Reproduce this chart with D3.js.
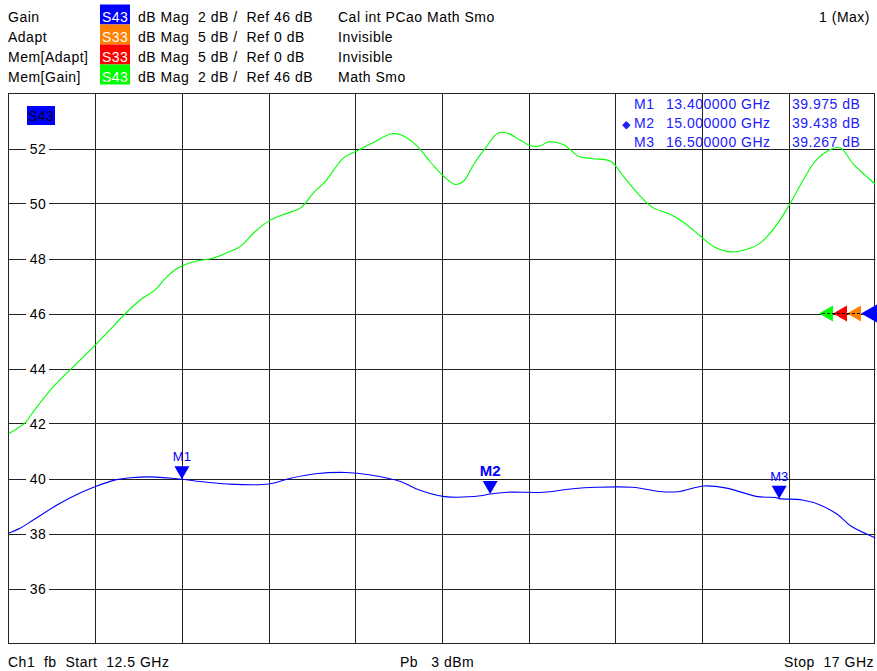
<!DOCTYPE html>
<html>
<head>
<meta charset="utf-8">
<script src="https://cdn.jsdelivr.net/npm/d3@7"></script>
<style>
  body { margin: 0; background: #fff; }
  text { font-family: "Liberation Sans", Arial, sans-serif; font-size: 14px; letter-spacing: 0.5px; white-space: pre; }
</style>
</head>
<body>
<div id="chart"></div>
<script>
// Gain trace (S43), frequency in GHz, level in dB
var gainFreq = [12.5, 12.562, 12.63, 12.77, 12.874, 12.952, 13.055, 13.133, 13.237, 13.4,
                13.497, 13.637, 13.849, 13.964, 14.093, 14.249, 14.379, 14.535, 14.628, 14.766,
                14.95, 15.0, 15.088, 15.275, 15.417, 15.552, 15.739, 15.879, 15.973, 16.11,
                16.227, 16.388, 16.481, 16.5, 16.62, 16.712, 16.805, 16.87, 17.0];
var gainDb = [38.01, 38.2, 38.5, 39.11, 39.48, 39.71, 39.95, 40.03, 40.06, 39.975,
              39.89, 39.8, 39.8, 40.01, 40.17, 40.22, 40.13, 39.89, 39.59, 39.34,
              39.37, 39.438, 39.5, 39.5, 39.62, 39.68, 39.68, 39.53, 39.52, 39.73,
              39.65, 39.34, 39.31, 39.267, 39.22, 39.04, 38.68, 38.28, 37.84];

// Mem[Gain] trace
var memFreq = [12.5, 12.588, 12.63, 12.734, 12.837, 12.952, 13.029, 13.107, 13.185, 13.263,
               13.315, 13.367, 13.403, 13.471, 13.564, 13.652, 13.704, 13.782, 13.849, 13.927,
               14.016, 14.083, 14.146, 14.239, 14.317, 14.405, 14.483, 14.535, 14.613, 14.691,
               14.758, 14.82, 14.862, 14.914, 14.976, 15.043, 15.095, 15.157, 15.209, 15.261,
               15.303, 15.381, 15.459, 15.536, 15.625, 15.692, 15.78, 15.848, 15.936, 16.003,
               16.092, 16.159, 16.247, 16.325, 16.403, 16.481, 16.554, 16.626, 16.688, 16.766,
               16.818, 16.886, 16.948, 17.0];
var memDb = [41.63, 42.04, 42.44, 43.35, 44.07, 44.86, 45.43, 46.0, 46.5, 46.87,
             47.29, 47.6, 47.74, 47.9, 48.02, 48.26, 48.44, 48.99, 49.35, 49.6,
             49.84, 50.39, 50.81, 51.66, 51.94, 52.26, 52.53, 52.5, 52.14, 51.5,
             50.99, 50.69, 50.81, 51.42, 52.02, 52.57, 52.54, 52.3, 52.1, 52.1,
             52.24, 52.14, 51.72, 51.63, 51.54, 50.99, 50.26, 49.84, 49.6, 49.32,
             48.81, 48.44, 48.24, 48.32, 48.57, 49.17, 49.96, 50.87, 51.54, 51.96,
             52.02, 51.42, 51.02, 50.69];

var markerNames = ["M1", "M2", "M3"];
var markerFreq = [13.4, 15.0, 16.5];
var markerDb = [39.975, 39.438, 39.267];
var activeMarker = "M2";

var yTicks = [36, 38, 40, 42, 44, 46, 48, 50, 52];
var refLevel = 46;

var traceNames = ["Gain", "Adapt", "Mem[Adapt]", "Mem[Gain]"];
var traceParams = ["S43", "S33", "S33", "S43"];
var traceFormats = ["dB Mag  2 dB /  Ref 46 dB", "dB Mag  5 dB /  Ref 0 dB",
                    "dB Mag  5 dB /  Ref 0 dB", "dB Mag  2 dB /  Ref 46 dB"];
var traceInfo = ["Cal int PCao Math Smo", "Invisible", "Invisible", "Math Smo"];
var traceColors = ["#0000ff", "#ff8000", "#ff0000", "#00ff00"];

var W = 877, H = 671;
var plot = {left: 8.5, right: 875.5, top: 93.5, bottom: 643.5};

var svg = d3.select("#chart").append("svg")
    .attr("width", W)
    .attr("height", H);

svg.append("rect").attr("width", W).attr("height", H).attr("fill", "#fff");

var x = d3.scaleLinear().domain([12.5, 17]).range([plot.left, plot.right]);
var y = d3.scaleLinear().domain([34, 54]).range([plot.bottom, plot.top]);

// header: trace list
var head = svg.append("g");
traceNames.forEach(function(name, i) {
  var by = 21.5 + i * 20;
  head.append("text").attr("x", 8).attr("y", by).text(name);
  head.append("rect")
      .attr("x", 100).attr("y", by - 17)
      .attr("width", 30).attr("height", 20)
      .attr("fill", traceColors[i]);
  head.append("text").attr("x", 102).attr("y", by).attr("fill", "#fff").text(traceParams[i]);
  head.append("text").attr("x", 138).attr("y", by).text(traceFormats[i]);
  head.append("text").attr("x", 338).attr("y", by).text(traceInfo[i]);
});
head.append("text").attr("x", 870).attr("y", 21.5)
    .attr("text-anchor", "end").text("1 (Max)");

// grid
var grid = svg.append("g");
grid.selectAll(".vg")
    .data(d3.range(1, 10))
    .enter().append("line")
    .attr("x1", function(i) { return Math.round(x(12.5 + i * 0.45)) + 0.5; })
    .attr("x2", function(i) { return Math.round(x(12.5 + i * 0.45)) + 0.5; })
    .attr("y1", plot.top).attr("y2", plot.bottom)
    .attr("stroke", "#222");
grid.selectAll(".hg")
    .data(yTicks)
    .enter().append("line")
    .attr("x1", plot.left).attr("x2", plot.right)
    .attr("y1", function(d) { return Math.round(y(d)) + 0.5; })
    .attr("y2", function(d) { return Math.round(y(d)) + 0.5; })
    .attr("stroke", "#222");
grid.append("rect")
    .attr("x", plot.left).attr("y", plot.top)
    .attr("width", plot.right - plot.left - 1).attr("height", plot.bottom - plot.top)
    .attr("fill", "none").attr("stroke", "#222");

// y labels with white background
var yl = svg.append("g");
yl.selectAll("rect")
    .data(yTicks)
    .enter().append("rect")
    .attr("x", 26).attr("y", function(d) { return y(d) - 8; })
    .attr("width", 23).attr("height", 16)
    .attr("fill", "#fff");
yl.selectAll("text")
    .data(yTicks)
    .enter().append("text")
    .attr("x", 38).attr("y", function(d) { return y(d) + 5; })
    .attr("text-anchor", "middle")
    .text(function(d) { return d; });

// trace tag
svg.append("rect").attr("x", 27).attr("y", 106).attr("width", 28).attr("height", 19).attr("fill", "#0000ff");
svg.append("text").attr("x", 28).attr("y", 121).attr("fill", "#000022").text("S43");

// traces
svg.append("clipPath").attr("id", "clip")
  .append("rect").attr("x", plot.left).attr("y", plot.top)
  .attr("width", plot.right - plot.left).attr("height", plot.bottom - plot.top);

var line = d3.line()
    .x(function(d) { return x(d[0]); })
    .y(function(d) { return y(d[1]); })
    .curve(d3.curveCatmullRom);

svg.append("path")
    .datum(d3.zip(memFreq, memDb))
    .attr("clip-path", "url(#clip)")
    .attr("fill", "none").attr("stroke", "#00ff00").attr("stroke-width", 1.1)
    .attr("d", line);

svg.append("path")
    .datum(d3.zip(gainFreq, gainDb))
    .attr("clip-path", "url(#clip)")
    .attr("fill", "none").attr("stroke", "#0000ff").attr("stroke-width", 1.1)
    .attr("d", line);

// reference level arrows
var refColors = ["#00ff00", "#ff0000", "#ff8000", "#0000ff"];
var ry = y(refLevel);
refColors.forEach(function(c, i) {
  var tip = 819 + i * 14;
  var w = i === 3 ? 16 : 14, h = i === 3 ? 9 : 8;
  svg.append("path")
      .attr("d", "M" + tip + "," + ry + "L" + (tip + w) + "," + (ry - h) + "L" + (tip + w) + "," + (ry + h) + "Z")
      .attr("fill", c);
});
svg.append("line")
    .attr("x1", 822).attr("x2", 862).attr("y1", ry).attr("y2", ry)
    .attr("stroke", "#000").attr("stroke-dasharray", "3,2");

// markers on trace
markerNames.forEach(function(m, i) {
  var mx = x(markerFreq[i]), my = y(markerDb[i]);
  svg.append("path")
      .attr("d", "M" + mx + "," + my + "L" + (mx - 7.5) + "," + (my - 13) + "L" + (mx + 7.5) + "," + (my - 13) + "Z")
      .attr("fill", "#0000ff");
  svg.append("text")
      .attr("x", mx).attr("y", my - 18)
      .attr("text-anchor", "middle")
      .attr("fill", "#0000ff")
      .style("font-size", m === activeMarker ? "15px" : "13px")
      .style("font-weight", m === activeMarker ? "bold" : "normal")
      .style("letter-spacing", "0px")
      .text(m);
});

// marker table
var fmt = d3.format(".6f"), fmt3 = d3.format(".3f");
markerNames.forEach(function(m, i) {
  var by = 108.5 + i * 19;
  var g = svg.append("g").attr("fill", "#2020ff");
  if (m === activeMarker) g.append("text").attr("x", 622).attr("y", by).style("font-size", "11px").text("\u25C6");
  g.append("text").attr("x", 634).attr("y", by).text(m);
  g.append("text").attr("x", 666).attr("y", by).text(fmt(markerFreq[i]) + " GHz");
  g.append("text").attr("x", 792).attr("y", by).text(fmt3(markerDb[i]) + " dB");
});

// footer
svg.append("text").attr("x", 8).attr("y", 666.5).text("Ch1  fb  Start  12.5 GHz");
svg.append("text").attr("x", 400).attr("y", 666.5).text("Pb   3 dBm");
svg.append("text").attr("x", 874).attr("y", 666.5).attr("text-anchor", "end").text("Stop  17 GHz");
</script>
</body>
</html>
